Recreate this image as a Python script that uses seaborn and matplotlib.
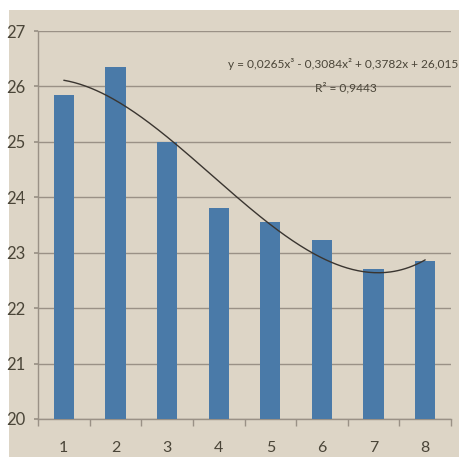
import matplotlib
matplotlib.use("Agg")
import matplotlib.pyplot as plt
from matplotlib.patches import Rectangle
from matplotlib.ticker import FixedLocator
import numpy as np
import pandas as pd
import seaborn as sns

# Data
categories = ["1", "2", "3", "4", "5", "6", "7", "8"]
values = [25.85, 26.35, 25.0, 23.8, 23.55, 23.23, 22.7, 22.85]
y_ticks = [20, 21, 22, 23, 24, 25, 26, 27]
# Cubic trendline: y = a*x^3 + b*x^2 + c*x + d
trend_coeffs = [0.0265, -0.3084, 0.3782, 26.015]
r_squared = 0.9443

sns.set_theme(style="white")
plt.rcParams["font.family"] = ["Lato", "DejaVu Sans"]

paper = "#ddd5c6"
bar_color = "#4a7aa8"
grid_color = "#9a9186"
text_color = "#4a4538"

W, H = 459, 457
fig = plt.figure(figsize=(W / 100, H / 100), dpi=100, facecolor="white")
fig.patches.append(Rectangle((9 / W, 0), 1 - 9 / W, 1 - 10 / H,
                             transform=fig.transFigure, facecolor=paper,
                             edgecolor="none", zorder=-10))

ax = fig.add_axes([38 / W, 38 / H, 413 / W, 388 / H])
ax.set_facecolor("none")

df = pd.DataFrame({"x": categories, "y": values})
sns.barplot(data=df, x="x", y="y", color=bar_color, saturation=1,
            width=0.39, linewidth=0, edgecolor="none", ax=ax, zorder=3)

xs = np.linspace(1, 8, 200)
ys = np.polyval(trend_coeffs, xs)
ax.plot(xs - 1, ys, color="#3a3530", lw=1.0, zorder=4)

ax.set_ylim(20, 27)
ax.set_xlim(-0.5, len(categories) - 0.5)
ax.set_yticks(y_ticks)
ax.yaxis.grid(True, color=grid_color, lw=1.0, zorder=1)
ax.set_axisbelow(True)

for side in ("top", "right"):
    ax.spines[side].set_visible(False)
for side in ("left", "bottom"):
    ax.spines[side].set_color(grid_color)
    ax.spines[side].set_linewidth(1.0)

ax.set_xlabel("")
ax.set_ylabel("")
ax.tick_params(axis="x", length=0, pad=16, labelsize=11.5, labelcolor=text_color)
ax.xaxis.set_minor_locator(FixedLocator(np.arange(-0.5, len(categories), 1.0)))
ax.tick_params(axis="x", which="minor", bottom=True, length=5,
               color=grid_color, width=1.0)
ax.tick_params(axis="y", left=True, length=3, color=grid_color, pad=6,
               labelsize=12, labelcolor=text_color)

sup2 = "\u00b2"
sup3 = "\u00b3"
a, b, c, d = trend_coeffs
fmt = lambda v: f"{v:.4f}".replace(".", ",")
eq = (f"y = {fmt(a)}x{sup3} - {fmt(abs(b))}x{sup2} + {fmt(c)}x + "
      f"{str(d).replace('.', ',')}")
fig.text(458 / W, 1 - 64 / H, eq, ha="right", va="center",
         fontsize=8.6, color=text_color)
fig.text(346 / W, 1 - 88 / H, f"R{sup2} = {fmt(r_squared)}", ha="center",
         va="center", fontsize=8.6, color=text_color)

fig.savefig("out.png", dpi=100, facecolor="white")
